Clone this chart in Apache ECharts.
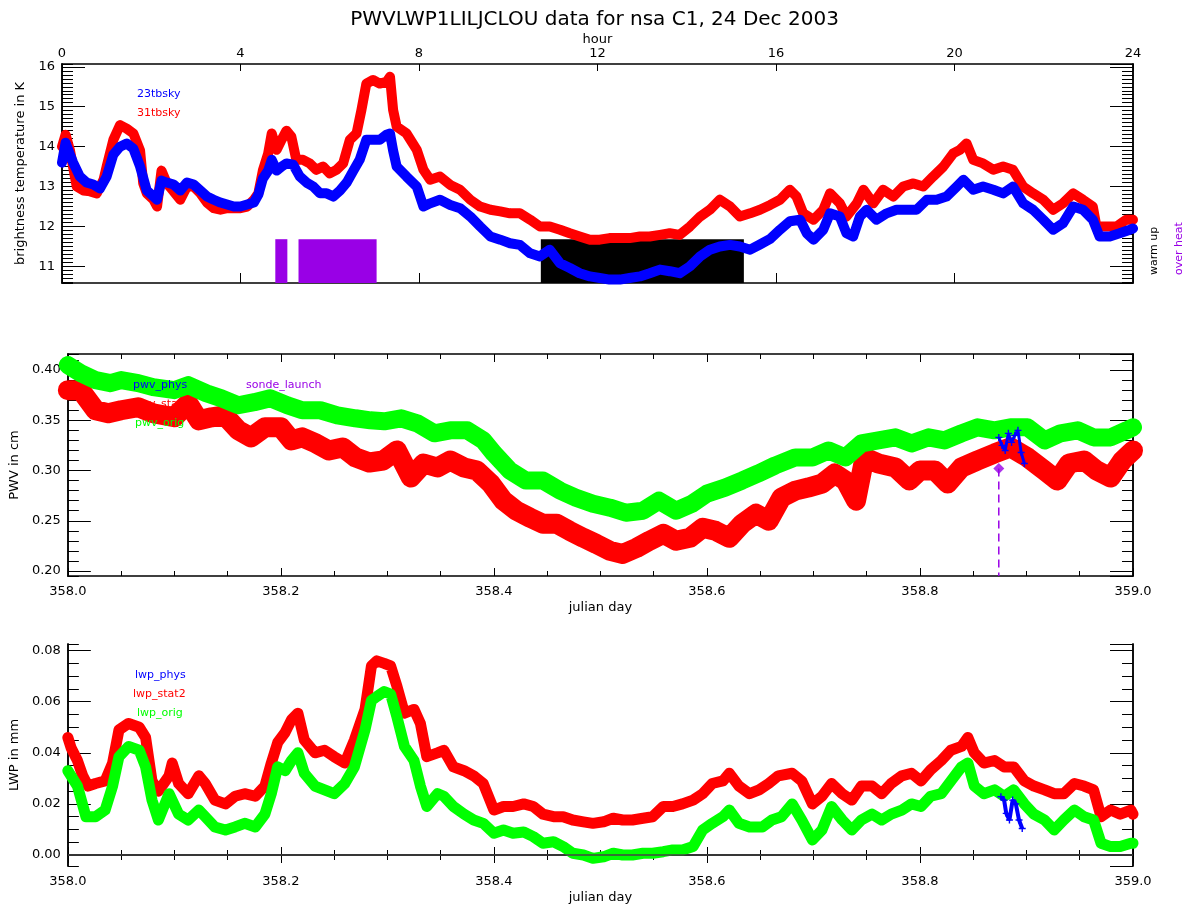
<!DOCTYPE html>
<html><head><meta charset="utf-8">
<script src="https://cdn.jsdelivr.net/npm/echarts@6/dist/echarts.min.js"></script>
<style>html,body{margin:0;padding:0;background:#fff}#c{width:1189px;height:909px}</style>
</head><body><div id="c"></div>
<script>
// ---------- Panel 1: brightness temperatures (x = hour of day) ----------
const hours23 = [0.0,0.08,0.18,0.25,0.4,0.55,0.7,0.85,1.0,1.15,1.3,1.45,1.6,1.75,1.9,2.05,2.13,2.23,2.35,2.5,2.65,2.8,2.95,3.1,3.25,3.4,3.55,3.7,3.85,4.0,4.15,4.3,4.4,4.5,4.62,4.7,4.81,4.92,5.03,5.18,5.33,5.48,5.63,5.78,5.93,6.08,6.23,6.38,6.53,6.67,6.82,6.97,7.12,7.27,7.35,7.42,7.5,7.72,7.95,8.1,8.25,8.47,8.7,8.92,9.15,9.37,9.6,9.82,10.04,10.26,10.49,10.71,10.93,11.16,11.38,11.6,11.83,12.05,12.27,12.5,12.72,12.95,13.17,13.4,13.62,13.84,14.07,14.3,14.52,14.74,14.97,15.19,15.42,15.64,15.87,16.09,16.31,16.54,16.69,16.84,17.06,17.21,17.43,17.58,17.73,17.88,18.03,18.25,18.48,18.7,18.93,19.15,19.38,19.6,19.82,20.05,20.2,20.42,20.64,20.87,21.09,21.31,21.54,21.76,21.99,22.21,22.43,22.66,22.88,23.1,23.25,23.48,23.7,23.93,24.0];
const tb23 = [13.6,14.1,13.8,13.6,13.25,13.1,13.05,12.95,13.25,13.8,14.0,14.08,13.95,13.5,12.9,12.75,12.67,13.15,13.1,13.05,12.9,13.1,13.05,12.9,12.75,12.67,12.6,12.55,12.5,12.5,12.55,12.6,12.8,13.2,13.4,13.67,13.4,13.5,13.58,13.55,13.25,13.1,13.0,12.83,12.83,12.75,12.9,13.1,13.4,13.67,14.17,14.17,14.17,14.3,14.33,13.9,13.5,13.25,13.0,12.5,12.58,12.67,12.54,12.46,12.25,12.0,11.75,11.67,11.58,11.54,11.33,11.25,11.42,11.08,10.96,10.83,10.75,10.71,10.67,10.67,10.71,10.75,10.83,10.92,10.88,10.83,11.0,11.25,11.42,11.5,11.54,11.5,11.42,11.55,11.69,11.92,12.13,12.17,11.83,11.67,11.92,12.33,12.25,11.83,11.75,12.25,12.42,12.17,12.33,12.42,12.42,12.42,12.67,12.67,12.75,13.0,13.17,12.92,13.0,12.92,12.83,13.0,12.58,12.42,12.17,11.92,12.08,12.5,12.42,12.17,11.75,11.75,11.83,11.92,11.95];
const hours31 = [0.0,0.08,0.18,0.33,0.48,0.63,0.78,0.93,1.0,1.15,1.3,1.45,1.6,1.75,1.82,1.9,2.05,2.13,2.23,2.35,2.5,2.65,2.8,2.95,3.1,3.25,3.4,3.55,3.7,3.85,4.0,4.15,4.3,4.4,4.5,4.62,4.7,4.81,4.92,5.03,5.14,5.25,5.4,5.55,5.7,5.85,6.0,6.15,6.3,6.45,6.6,6.71,6.82,6.97,7.12,7.27,7.35,7.42,7.5,7.72,7.95,8.1,8.25,8.47,8.7,8.92,9.15,9.37,9.6,9.82,10.04,10.26,10.49,10.71,10.93,11.16,11.38,11.6,11.83,12.05,12.27,12.5,12.72,12.95,13.17,13.4,13.62,13.84,14.07,14.3,14.52,14.74,14.97,15.19,15.42,15.64,15.87,16.09,16.31,16.46,16.61,16.84,17.06,17.21,17.43,17.58,17.81,17.96,18.18,18.4,18.63,18.85,19.08,19.3,19.52,19.75,19.97,20.12,20.27,20.42,20.64,20.87,21.09,21.31,21.54,21.76,21.99,22.21,22.43,22.66,22.88,23.1,23.18,23.4,23.63,23.85,24.0];
const tb31 = [14.0,14.3,13.9,13.0,12.9,12.88,12.83,13.17,13.5,14.17,14.54,14.45,14.33,13.9,13.08,12.83,12.67,12.5,13.4,13.08,12.88,12.67,13.0,13.0,12.83,12.6,12.46,12.42,12.46,12.46,12.46,12.5,12.67,12.83,13.4,13.83,14.33,13.92,14.17,14.4,14.25,13.67,13.67,13.58,13.42,13.5,13.33,13.42,13.58,14.17,14.33,14.92,15.58,15.67,15.58,15.62,15.75,14.92,14.5,14.33,13.92,13.42,13.17,13.25,13.04,12.92,12.67,12.5,12.42,12.38,12.33,12.33,12.17,12.0,12.0,11.92,11.83,11.75,11.67,11.67,11.71,11.71,11.71,11.75,11.75,11.79,11.83,11.79,12.0,12.25,12.42,12.67,12.5,12.25,12.33,12.42,12.54,12.67,12.92,12.75,12.33,12.17,12.42,12.83,12.58,12.25,12.58,12.92,12.58,12.92,12.75,13.0,13.08,13.0,13.25,13.5,13.83,13.92,14.08,13.67,13.58,13.42,13.5,13.42,13.0,12.83,12.67,12.42,12.58,12.83,12.67,12.5,12.0,12.0,12.0,12.17,12.17];
// flag intervals (hours)
const warmUpStart = [10.73], warmUpEnd = [15.28];
const overHeatStart = [4.78, 5.30], overHeatEnd = [5.05, 7.05];

// ---------- Panel 2: PWV (x = julian day) ----------
const daysPwvOrig = [358.0,358.012,358.026,358.04,358.05,358.066,358.08,358.1,358.113,358.13,358.144,358.16,358.175,358.19,358.206,358.22,358.237,358.253,358.27,358.284,358.297,358.313,358.328,358.344,358.359,358.375,358.39,358.4,358.415,358.43,358.446,358.462,358.477,358.493,358.509,358.524,358.54,358.555,358.571,358.586,358.6,358.617,358.633,358.648,358.664,358.683,358.699,358.714,358.73,358.745,358.761,358.777,358.792,358.808,358.823,358.839,358.854,358.87,358.885,358.901,358.917,358.932,358.948,358.963,358.979,358.994,359.0];
const pwvOrig = [0.405,0.397,0.39,0.387,0.39,0.387,0.383,0.38,0.385,0.377,0.372,0.365,0.368,0.372,0.365,0.36,0.36,0.355,0.352,0.35,0.349,0.352,0.347,0.337,0.34,0.34,0.33,0.317,0.30,0.29,0.29,0.28,0.273,0.267,0.263,0.258,0.26,0.27,0.26,0.267,0.277,0.283,0.29,0.297,0.305,0.313,0.313,0.32,0.313,0.327,0.33,0.333,0.327,0.333,0.33,0.337,0.343,0.34,0.343,0.343,0.33,0.337,0.34,0.333,0.333,0.34,0.343];
const daysPwvStat2 = [358.0,358.012,358.026,358.038,358.05,358.066,358.08,358.1,358.113,358.123,358.135,358.147,358.16,358.172,358.185,358.2,358.21,358.22,358.233,358.245,358.258,358.27,358.283,358.296,358.309,358.322,358.334,358.347,358.359,358.372,358.384,358.397,358.409,358.421,358.434,358.446,358.459,358.471,358.484,358.496,358.509,358.521,358.534,358.546,358.559,358.571,358.584,358.596,358.608,358.621,358.633,358.646,358.658,358.67,358.683,358.695,358.708,358.72,358.73,358.74,358.748,358.761,358.777,358.79,358.8,358.814,358.826,358.839,358.854,358.87,358.885,358.901,358.917,358.929,358.94,358.954,358.966,358.979,358.99,359.0];
const pwvStat2 = [0.38,0.38,0.36,0.357,0.36,0.363,0.357,0.353,0.367,0.35,0.353,0.355,0.34,0.333,0.343,0.343,0.33,0.333,0.327,0.32,0.323,0.313,0.308,0.31,0.32,0.293,0.307,0.303,0.31,0.303,0.30,0.287,0.27,0.26,0.253,0.247,0.247,0.24,0.233,0.227,0.22,0.217,0.223,0.23,0.237,0.23,0.233,0.243,0.24,0.233,0.247,0.257,0.25,0.273,0.28,0.283,0.287,0.297,0.29,0.27,0.313,0.307,0.303,0.29,0.30,0.30,0.287,0.303,0.31,0.317,0.323,0.313,0.30,0.29,0.307,0.31,0.30,0.293,0.31,0.32];
const daysPwvPhys = [358.874,358.877,358.880,358.883,358.886,358.889,358.892,358.895,358.898];
const pwvPhys = [0.333,0.325,0.320,0.337,0.328,0.335,0.340,0.318,0.307];
const sondeDay = [358.874], sondePwv = [0.302];

// ---------- Panel 3: LWP (x = julian day) ----------
const daysLwpStat2 = [358.0,358.003,358.009,358.014,358.019,358.026,358.035,358.042,358.048,358.057,358.067,358.073,358.079,358.085,358.095,358.098,358.104,358.113,358.123,358.129,358.138,358.148,358.157,358.166,358.176,358.185,358.191,358.197,358.204,358.21,358.216,358.222,358.232,358.241,358.25,358.26,358.269,358.279,358.285,358.29,358.297,358.303,358.309,358.316,358.325,358.331,358.337,358.347,358.353,358.362,358.372,358.381,358.39,358.4,358.409,358.418,358.428,358.437,358.446,358.456,358.465,358.474,358.484,358.493,358.503,358.512,358.521,358.53,358.54,358.549,358.559,358.568,358.577,358.587,358.596,358.605,358.615,358.621,358.63,358.64,358.649,358.658,358.667,358.68,358.689,358.699,358.708,358.717,358.727,358.736,358.745,358.755,358.764,358.773,358.783,358.792,358.801,358.81,358.82,358.829,358.839,358.845,358.851,358.86,358.87,358.879,358.888,358.898,358.907,358.917,358.926,358.935,358.945,358.954,358.963,358.97,358.979,358.988,358.998,359.0];
const lwpStat2 = [0.046,0.042,0.037,0.031,0.027,0.028,0.029,0.036,0.049,0.0515,0.050,0.046,0.029,0.025,0.031,0.036,0.028,0.024,0.031,0.028,0.0215,0.020,0.023,0.024,0.023,0.027,0.036,0.044,0.048,0.053,0.0555,0.045,0.040,0.041,0.0385,0.036,0.045,0.057,0.074,0.076,0.075,0.074,0.066,0.0555,0.057,0.0515,0.0385,0.040,0.041,0.0345,0.033,0.031,0.028,0.0176,0.019,0.019,0.020,0.019,0.016,0.015,0.015,0.0137,0.013,0.0124,0.013,0.0144,0.0137,0.0137,0.0144,0.015,0.019,0.019,0.020,0.0215,0.024,0.028,0.029,0.032,0.027,0.024,0.0255,0.028,0.031,0.032,0.029,0.020,0.023,0.028,0.024,0.0215,0.027,0.027,0.024,0.028,0.031,0.032,0.029,0.0333,0.037,0.041,0.0425,0.046,0.040,0.036,0.037,0.0345,0.0345,0.029,0.027,0.0255,0.024,0.024,0.028,0.027,0.0255,0.015,0.0176,0.016,0.0176,0.016];
const daysLwpOrig = [358.0,358.009,358.017,358.026,358.035,358.042,358.048,358.057,358.067,358.073,358.079,358.085,358.095,358.104,358.113,358.123,358.129,358.138,358.148,358.157,358.166,358.176,358.185,358.191,358.197,358.204,358.21,358.216,358.222,358.232,358.241,358.25,358.26,358.269,358.279,358.285,358.29,358.297,358.303,358.309,358.316,358.325,358.331,358.337,358.347,358.353,358.362,358.372,358.381,358.39,358.4,358.409,358.418,358.428,358.437,358.446,358.456,358.465,358.474,358.484,358.493,358.503,358.512,358.521,358.53,358.54,358.549,358.559,358.568,358.577,358.587,358.596,358.605,358.615,358.621,358.63,358.64,358.652,358.661,358.67,358.68,358.689,358.699,358.708,358.717,358.727,358.736,358.745,358.755,358.764,358.773,358.783,358.792,358.801,358.81,358.82,358.829,358.839,358.845,358.851,358.86,358.87,358.879,358.888,358.898,358.907,358.917,358.926,358.935,358.945,358.954,358.963,358.97,358.979,358.988,358.998,359.0];
const lwpOrig = [0.033,0.027,0.015,0.015,0.0176,0.027,0.0385,0.0425,0.041,0.0345,0.0215,0.0137,0.024,0.016,0.0137,0.0176,0.015,0.011,0.0098,0.011,0.0124,0.011,0.016,0.024,0.0345,0.033,0.037,0.040,0.032,0.027,0.0255,0.024,0.028,0.0345,0.049,0.0605,0.062,0.064,0.063,0.054,0.0425,0.037,0.027,0.019,0.024,0.023,0.019,0.016,0.0137,0.0124,0.0085,0.0098,0.0085,0.009,0.0072,0.0046,0.0052,0.0033,0.0007,0.0,-0.0013,-0.0007,0.0007,0.0,0.0,0.0007,0.0007,0.0013,0.002,0.002,0.0033,0.0098,0.0124,0.015,0.0176,0.0124,0.011,0.011,0.0137,0.015,0.020,0.0137,0.0059,0.0098,0.019,0.0137,0.0098,0.0137,0.016,0.0137,0.016,0.0176,0.020,0.019,0.023,0.024,0.029,0.0345,0.036,0.027,0.024,0.0255,0.023,0.0255,0.020,0.016,0.0137,0.0098,0.0137,0.0176,0.015,0.0137,0.0046,0.0033,0.0033,0.0046,0.0046];
const daysLwpPhys = [358.876,358.879,358.881,358.884,358.887,358.890,358.893,358.896];
const lwpPhys = [0.0228,0.0215,0.0163,0.0137,0.0215,0.020,0.0137,0.0104];

// axis ranges read from the frame
const tbRange = [10.585, 16.07];
const pwvRange = [0.195, 0.416];
const lwpRange = [-0.0043, 0.0826];

const zip = (xs, ys) => xs.map((x, i) => [x, ys[i]]);
const FONT = 'DejaVu Sans';
const BLUE = '#0000ff', RED = '#ff0000', GREEN = '#00ff00', PURPLE = '#9900e6';
const axisLine = {show: true, lineStyle: {color: '#000', width: 1.5}};

function yAxesFor(gridIndex, range, major, minor, name, gap, fmt) {
  const base = {gridIndex, type: 'value', min: range[0], max: range[1], splitLine: {show: false}, axisLine};
  const lbl = {show: true, fontSize: 13, color: '#000', fontFamily: FONT, margin: 7, formatter: fmt, showMinLabel: false, showMaxLabel: false};
  const nolbl = {show: false};
  const mk = (pos, iv, len, label, extra) => Object.assign({}, base, {
    position: pos, minInterval: iv, maxInterval: iv, splitNumber: Math.round((range[1]-range[0])/iv),
    axisTick: {show: true, inside: true, length: len, lineStyle: {color: '#000', width: 1}},
    axisLabel: label
  }, extra || {});
  return [
    mk('left', major, 23, lbl, {name, nameLocation: 'middle', nameGap: gap,
      nameTextStyle: {fontSize: 13, color: '#000', fontFamily: FONT}}),
    mk('left', minor, 11, nolbl),
    mk('right', major, 23, nolbl),
    mk('right', minor, 11, nolbl)
  ];
}

function dayAxis(gridIndex, pos, withLabels) {
  const a = {gridIndex, type: 'value', position: pos, min: 358, max: 359, interval: 0.2,
    splitLine: {show: false}, axisLine,
    axisTick: {show: true, inside: true, length: 8, lineStyle: {color: '#000'}},
    minorTick: {show: true, splitNumber: 4, length: 5, lineStyle: {color: '#000'}},
    axisLabel: withLabels ? {show: true, fontSize: 13, color: '#000', fontFamily: FONT, margin: 9, formatter: v => v.toFixed(1)} : {show: false}};
  if (withLabels) Object.assign(a, {name: 'julian day', nameLocation: 'middle', nameGap: 25,
    nameTextStyle: {fontSize: 13, color: '#000', fontFamily: FONT}});
  return a;
}

const flagTop = tbRange[0] + 0.2 * (tbRange[1] - tbRange[0]);
const flagAreas = (starts, ends) => starts.map((s, i) => [{xAxis: s, yAxis: tbRange[0]}, {xAxis: ends[i], yAxis: flagTop}]);

const band = (name, data, color, width, xi, yi, z) => ({
  name, type: 'line', data, xAxisIndex: xi, yAxisIndex: yi, symbol: 'none', z,
  lineStyle: {color, width, join: 'round', cap: 'round'}, silent: true, animation: false
});

const plusSym = 'path://M2,0H3V2H5V3H3V5H2V3H0V2H2Z';

const text = (t, x, y, color, extra) => ({type: 'text', x, y, z: 100,
  style: Object.assign({text: t, fill: color, fontSize: 11, fontFamily: FONT, verticalAlign: 'middle', align: 'left'}, extra || {})});

const option = {
  backgroundColor: '#fff',
  animation: false,
  title: {text: 'PWVLWP1LILJCLOU data for nsa C1, 24 Dec 2003', left: 'center', top: 5,
    textStyle: {fontSize: 20, fontWeight: 'normal', color: '#000', fontFamily: FONT}},
  grid: [
    {left: 62, top: 64, width: 1071, height: 219},
    {left: 62, top: 354, width: 1071, height: 222},
    {left: 62, top: 644, width: 1071, height: 222}
  ],
  xAxis: [
    {gridIndex: 0, type: 'value', position: 'top', min: 0, max: 24, interval: 4, splitLine: {show: false}, axisLine,
     axisTick: {show: true, inside: true, length: 7, lineStyle: {color: '#000'}},
     axisLabel: {show: true, fontSize: 13, color: '#000', fontFamily: FONT, margin: 4},
     name: 'hour', nameLocation: 'middle', nameGap: 15, nameTextStyle: {fontSize: 13, color: '#000', fontFamily: FONT}},
    {gridIndex: 0, type: 'value', position: 'bottom', min: 0, max: 24, interval: 4, splitLine: {show: false}, axisLine,
     axisTick: {show: true, inside: true, length: 10, lineStyle: {color: '#000'}}, axisLabel: {show: false}},
    dayAxis(1, 'bottom', true), dayAxis(1, 'top', false),
    dayAxis(2, 'bottom', true), dayAxis(2, 'top', false)
  ],
  yAxis: [].concat(
    yAxesFor(0, tbRange, 1, 0.1, 'brightness temperature in K', 27, v => v.toFixed(0)),
    yAxesFor(1, pwvRange, 0.05, 0.01, 'PWV in cm', 40, v => v.toFixed(2)),
    yAxesFor(2, lwpRange, 0.02, 0.005, 'LWP in mm', 40, v => v.toFixed(2))
  ),
  graphic: [
    text('23tbsky', 137, 94, BLUE),
    text('31tbsky', 137, 113, RED),
    text('pwv_phys', 133, 385, BLUE),
    text('pwv_stat2', 133, 404, RED),
    text('pwv_orig', 135, 423, GREEN),
    text('sonde_launch', 246, 385, PURPLE),
    text('lwp_phys', 135, 675, BLUE),
    text('lwp_stat2', 133, 694, RED),
    text('lwp_orig', 137, 713, GREEN),
    {type: 'text', x: 1154, y: 275, rotation: Math.PI / 2, z: 100,
     style: {text: 'warm up', fill: '#000', fontSize: 11, fontFamily: FONT, align: 'left', verticalAlign: 'middle'}},
    {type: 'text', x: 1179, y: 275, rotation: Math.PI / 2, z: 100,
     style: {text: 'over heat', fill: PURPLE, fontSize: 11, fontFamily: FONT, align: 'left', verticalAlign: 'middle'}}
  ],
  series: [
    {name: 'warm up', type: 'line', xAxisIndex: 0, yAxisIndex: 0, data: [], z: 1, silent: true,
     markArea: {silent: true, itemStyle: {color: '#000', opacity: 1}, label: {show: false}, data: flagAreas(warmUpStart, warmUpEnd)}},
    {name: 'over heat', type: 'line', xAxisIndex: 0, yAxisIndex: 0, data: [], z: 1, silent: true,
     markArea: {silent: true, itemStyle: {color: PURPLE, opacity: 1}, label: {show: false}, data: flagAreas(overHeatStart, overHeatEnd)}},
    band('31tbsky', zip(hours31, tb31), RED, 10, 0, 0, 3),
    band('23tbsky', zip(hours23, tb23), BLUE, 10, 0, 0, 4),

    band('pwv_stat2', zip(daysPwvStat2, pwvStat2), RED, 20, 2, 4, 3),
    band('pwv_orig', zip(daysPwvOrig, pwvOrig), GREEN, 18, 2, 4, 4),
    {name: 'pwv_phys', type: 'line', xAxisIndex: 2, yAxisIndex: 4, data: zip(daysPwvPhys, pwvPhys), z: 5,
     symbol: plusSym, symbolSize: 7, showSymbol: true, itemStyle: {color: BLUE}, lineStyle: {color: BLUE, width: 3}, silent: true},
    {name: 'sonde_line', type: 'line', xAxisIndex: 2, yAxisIndex: 4, z: 6, silent: true, symbol: 'none',
     data: [[sondeDay[0], sondePwv[0]], [sondeDay[0], pwvRange[0]]],
     lineStyle: {color: PURPLE, width: 1.5, type: [8, 5]}},
    {name: 'sonde_launch', type: 'scatter', xAxisIndex: 2, yAxisIndex: 4, z: 7, silent: true,
     data: zip(sondeDay, sondePwv), symbol: 'diamond', symbolSize: 11, itemStyle: {color: PURPLE}},

    Object.assign(band('lwp_stat2', zip(daysLwpStat2, lwpStat2), RED, 11, 4, 8, 3), {
      markLine: {silent: true, symbol: 'none', label: {show: false}, animation: false,
        lineStyle: {color: '#444', type: 'solid', width: 1.5}, data: [{yAxis: 0}]}}),
    band('lwp_orig', zip(daysLwpOrig, lwpOrig), GREEN, 11, 4, 8, 4),
    {name: 'lwp_phys', type: 'line', xAxisIndex: 4, yAxisIndex: 8, data: zip(daysLwpPhys, lwpPhys), z: 5,
     symbol: plusSym, symbolSize: 7, showSymbol: true, itemStyle: {color: BLUE}, lineStyle: {color: BLUE, width: 4}, silent: true}
  ]
};

const chart = echarts.init(document.getElementById('c'), null, {renderer: 'canvas'});
chart.setOption(option);
</script>
</body></html>
